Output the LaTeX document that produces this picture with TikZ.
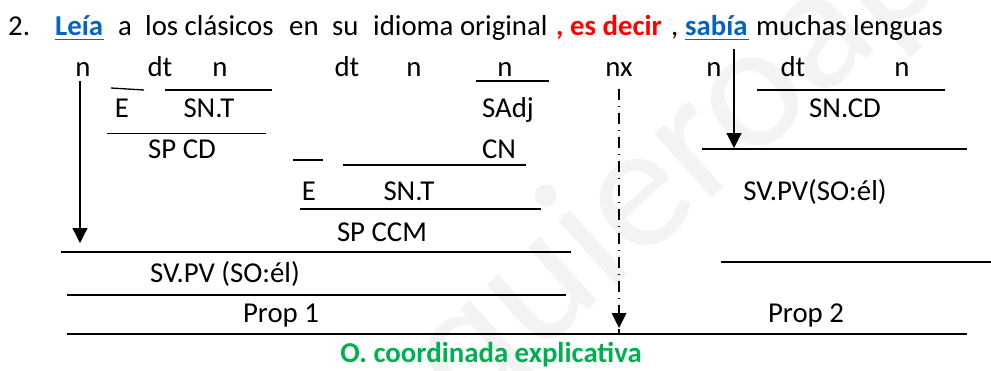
\documentclass[tikz,border=0pt]{standalone}
\usepackage{fontspec}
\setmainfont{Carlito}
\usetikzlibrary{arrows.meta}
\definecolor{lnkblue}{RGB}{5,99,193}
\definecolor{grn}{RGB}{0,176,80}
\definecolor{wm}{RGB}{243,243,243}
\tikzset{
 lbl/.style={inner sep=0pt,font=\fontsize{28.8}{32}\selectfont,text=black},
 blbl/.style={inner sep=0pt,font=\fontsize{28.8}{32}\selectfont\bfseries},
 rule/.style={line width=1.3pt,black},
 arr/.style={line width=1.2pt,-{Triangle[length=15pt,width=15pt]},black},
 dd/.style={line width=1.2pt,black,dash pattern=on 11pt off 6pt on 1pt off 6pt}
}
\begin{document}
\begin{tikzpicture}[x=1pt,y=-1pt]
\useasboundingbox (0,0) rectangle (991,370);
\fill[white] (0,0) rectangle (991,370);
\begin{scope}
\clip (0,0) rectangle (991,370);
\node[rotate=42,text=wm,inner sep=0pt,font=\fontsize{180}{180}\selectfont] (wmk) at (678,165) {quieroap};
\end{scope}
% sentence
\node[lbl,anchor=base west] (num) at (8,35) {2.};
\node[blbl,anchor=base west,text=lnkblue] (w1) at (55,35) {Leía};
\draw[lnkblue,line width=1.2pt] (55,39.5) -- (104,39.5);
\node[lbl,anchor=base west] (w2) at (118,35) {a};
\node[lbl,anchor=base west] (w3) at (145,35) {los clásicos};
\node[lbl,anchor=base west] (w4) at (289,35) {en};
\node[lbl,anchor=base west] (w5) at (332,35) {su};
\node[lbl,anchor=base west] (w6) at (373,35) {idioma original};
\node[blbl,anchor=base west,text=red] (w7) at (556,35) {, es decir};
\node[lbl,anchor=base west] (w8) at (671,35) {,};
\node[blbl,anchor=base west,text=lnkblue] (w9) at (685,35) {sabía};
\draw[lnkblue,line width=1.2pt] (685,39.5) -- (749,39.5);
\node[lbl,anchor=base west] (w10) at (756,35) {muchas lenguas};
% row labels
\foreach \n/\t/\x/\y in {
 a/n/83/76.5, b/dt/160/76.5, c/n/220/76.5, d/dt/347/76.5, e/n/414/76.5, f/n/505/76.5, g/nx/619/76.5, h/n/714/76.5, i/dt/793/76.5, j/n/902/76.5,
 k/E/122/117, l/SN.T/209/117, m/SAdj/508/117, o/SN.CD/845/117,
 p/SP CD/182/158, q/CN/499/158,
 r/E/309/200, s/SN.T/409/200,
 t/SP CCM/382/241, u/SV.PV(SO:él)/815/200,
 v/SV.PV (SO:él)/225/282, w/Prop 1/281/322, x/Prop 2/806/322}
 {\node[lbl,anchor=base] (\n) at (\x,\y) {\t};}
\node[blbl,anchor=base,text=grn] (title) at (491,362) {O. coordinada explicativa};
% rules
\draw[rule] (111,88) -- (144,90);
\draw[rule] (165,90) -- (272,90);
\draw[rule] (107,133.5) -- (266,133.5);
\draw[rule] (293,160) -- (323,160);
\draw[rule] (343,165) -- (526,165);
\draw[rule] (476,81) -- (549,81);
\draw[rule] (300,209) -- (541,209);
\draw[rule] (61,252) -- (571,252);
\draw[rule] (67,295) -- (566,295);
\draw[rule] (67,334) -- (967,334);
\draw[rule] (757,90) -- (945,90);
\draw[rule] (702,149) -- (967,149);
\draw[rule] (721,262) -- (991,262);
% arrows
\coordinate (a1) at (80,81);
\coordinate (a2) at (80,243);
\coordinate (b1) at (734,49);
\coordinate (b2) at (734,148);
\coordinate (c1) at (619,89);
\coordinate (c2) at (619,333);
\coordinate (c3) at (619,328);
\draw[arr] (a1) -- (a2);
\draw[arr] (b1) -- (b2);
\draw[dd] (c1) -- (c2);
\fill[black] (c3) -- ++(-7.5,-15) -- ++(15,0) -- cycle;
\end{tikzpicture}
\end{document}
